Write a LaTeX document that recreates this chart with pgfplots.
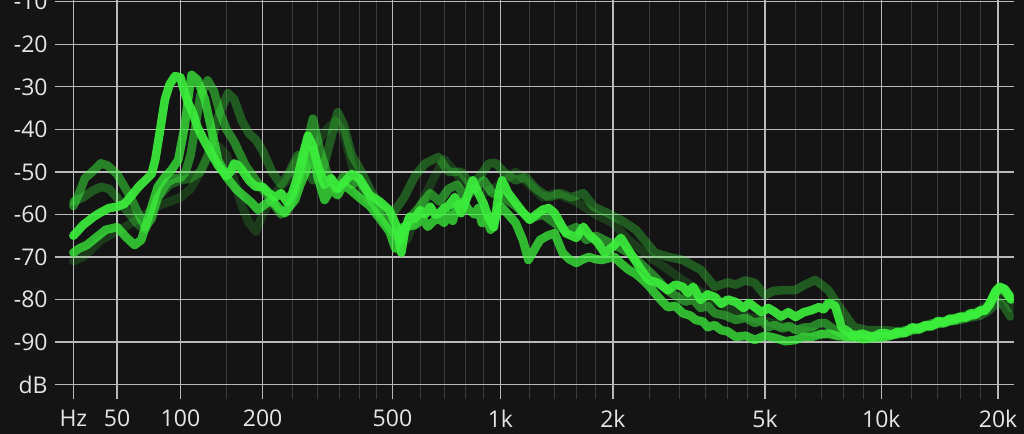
\documentclass[border=0pt]{standalone}
\usepackage{pgfplots}
\pgfplotsset{compat=1.18}
\usepackage{fontspec}
\setmainfont{Open Sans}

\definecolor{bgc}{RGB}{20,20,20}
\definecolor{tr}{RGB}{60,240,60}
\definecolor{majgrid}{RGB}{185,185,185}
\definecolor{mingrid}{RGB}{58,58,58}
\definecolor{lbl}{RGB}{230,230,230}

\begin{document}
\begin{tikzpicture}
% dark page
\fill[bgc] (-27.5pt,-17.35pt) rectangle (484.5pt,199.65pt);
\begin{axis}[
    scale only axis,
    width=479.35pt, height=199.65pt,
    % frequency axis: position = log10(f + 60)
    x filter/.expression={log10(x+60)},
    xmin=1.88229, xmax=4.34239,
    ymin=-103.45, ymax=-9.6,
    xtick={1.92942,2.04139,2.20412,2.41497,2.74819,3.02531,3.31387,3.70415,4.00260,4.30233},
    xticklabels={Hz,50,100,200,500,1k,2k,5k,10k,20k},
    minor xtick={2.32222,2.49136,2.55630,2.61278,2.66276,2.70757,
        2.81954,2.88081,2.93450,2.98227,
        3.10037,3.16435,3.22011,3.26951,
        3.40824,3.48572,3.55145,3.60853,3.65896,
        3.78247,3.84880,3.90634,3.95713,
        4.08135,4.14799,4.20575,4.25672},
    ytick={-100,-90,...,-10},
    yticklabels={dB,-90,-80,-70,-60,-50,-40,-30,-20,-10},
    xmajorgrids, xminorgrids, ymajorgrids,
    major grid style={majgrid, line width=0.7pt},
    minor grid style={mingrid, line width=0.5pt},
    axis line style={draw=none},
    tick style={draw=none},
    tick label style={lbl, font=\fontsize{11.5}{13}\selectfont},
    xticklabel style={inner sep=0pt, yshift=-5pt},
    yticklabel style={inner sep=0pt, xshift=-3.5pt},
    every axis plot/.append style={tr, line width=4.3pt, line join=round, line cap=round, no markers},
]
% faint background trace
\addplot[opacity=0.18] coordinates {
(25,-71)(30,-70)(35,-68)(40,-66)(50,-64)(60,-62)(70,-60)(80,-58)(90,-57)(100,-56)(110,-54)(120,-50)(130,-46)(140,-44)(150,-46)(160,-52)(170,-58)(180,-62)(190,-64)(200,-60)(220,-55)(240,-52)(260,-47)(280,-44)(300,-43)(320,-40)(340,-38)(360,-41)(380,-48)(400,-55)(450,-58)(500,-63)(550,-66)(600,-58)(650,-52)(700,-47)(750,-50)(800,-53)(900,-55)(1000,-53)(1100,-50)(1200,-53)(1300,-56)(1400,-55)(1600,-57)(1800,-60)(2000,-62)(2200,-66)(2500,-70)(2800,-73)(3000,-75)(3500,-79)(4000,-82)(4500,-84)(5000,-85)(6000,-87)(7000,-88)(8000,-89)(10000,-89)(12000,-87)(14000,-85.5)(16000,-84)(18000,-82.5)(20000,-79)(21000,-80)(21600,-82)
};
\addplot[opacity=0.32] coordinates {
(25,-57)(30,-56)(35,-54.5)(40,-53.5)(45,-54)(50,-56)(55,-58.5)(60,-60.5)(65,-62.5)(70,-63.6)(75,-60)(80,-56)(90,-53)(100,-52)(110,-51.5)(120,-50)(130,-45)(140,-37)(152,-31.5)(160,-33)(170,-38)(180,-41)(190,-42.5)(200,-45)(215,-50)(230,-53)(245,-50)(260,-46)(275,-48)(290,-52)(310,-50)(330,-42)(345,-36)(360,-39)(380,-46)(400,-49)(430,-54)(460,-58)(500,-60)(540,-56)(580,-51)(620,-48)(675,-46.5)(720,-50)(780,-50)(830,-53)(880,-51)(930,-48)(970,-47.9)(1020,-50)(1100,-52)(1170,-51.2)(1250,-54)(1350,-56)(1450,-55)(1550,-56)(1670,-55)(1780,-58.2)(1940,-59.7)(2100,-61.3)(2300,-63.6)(2580,-69)(2800,-70)(3050,-70.7)(3400,-73)(3700,-77)(4000,-76)(4200,-76.5)(4450,-75.5)(4700,-76.1)(5000,-79)(5250,-78)(5550,-77.8)(6000,-77.8)(6350,-76.5)(6750,-75.4)(7000,-76.5)(7300,-77.8)(7900,-82.5)(8500,-86.5)(9200,-87.2)(10250,-87.2)(11000,-87.5)(12000,-87)(13000,-86.2)(14000,-85.8)(15000,-85.2)(16000,-84.8)(17000,-84.2)(18000,-83.8)(19000,-82.5)(20000,-80.5)(20700,-81.5)(21500,-84)
};
\addplot[opacity=0.5] coordinates {
(25,-58)(28,-55)(31,-51.5)(35,-50)(40,-48)(44,-48.5)(50,-50.5)(55,-53.5)(60,-56.5)(65,-60)(70,-63)(75,-61)(80,-56)(88,-52.5)(95,-51.5)(100,-51.5)(105,-50)(110,-46)(115,-39)(120,-32)(128,-28.5)(135,-31)(142,-36)(150,-40)(160,-43)(175,-48.5)(190,-52)(200,-54)(215,-57)(230,-60)(245,-58)(260,-53)(275,-45)(290,-37.5)(305,-45)(320,-50)(340,-54)(360,-51)(380,-53)(400,-52)(430,-56)(460,-60)(500,-64)(530,-66)(560,-61)(600,-58)(640,-55)(680,-57)(720,-54)(760,-53)(800,-56)(850,-54)(900,-52)(950,-55)(1000,-55.5)(1100,-58)(1200,-61)(1300,-60)(1400,-62)(1500,-64)(1600,-63)(1700,-66)(1800,-65)(2000,-67)(2200,-69)(2400,-72)(2600,-75)(2800,-78)(3100,-80.5)(3250,-80)(3400,-82)(3550,-81.5)(3700,-83.2)(3950,-83.8)(4200,-84.8)(4450,-84.3)(4700,-85.5)(4900,-85)(5100,-86.5)(5300,-86)(5550,-86.8)(5800,-86.2)(6000,-87.2)(6300,-86.6)(6600,-86.5)(6900,-85.6)(7150,-85.5)(7600,-87.2)(8200,-88.8)(9000,-89.3)(10000,-89)(10500,-88.4)(11000,-88.2)(11500,-87.3)(12000,-87)(12500,-86.6)(13000,-86.2)(13500,-85.6)(14000,-85.6)(14500,-85.1)(15000,-85)(15500,-84.3)(16000,-84.2)(16500,-83.9)(17000,-83.6)(17500,-83.2)(18000,-82.8)(18500,-82.2)(19000,-81.5)(19800,-78)(20400,-77.5)(21000,-78.5)(21600,-80)
};
\addplot[opacity=0.75] coordinates {
(25,-69)(28,-68)(32,-67.2)(37,-65.5)(43,-63.6)(50,-63)(56,-65.3)(62,-67.2)(67,-66)(71,-62)(75,-58.2)(80,-53.5)(86,-51.2)(92,-49.5)(98,-47.2)(104,-39.4)(108,-32)(111,-27.2)(117,-28.4)(125,-33)(133,-40.8)(140,-47.2)(150,-51.2)(163,-54.2)(175,-56)(184,-57.3)(193,-58.9)(205,-57.5)(215,-56.6)(226,-58.5)(237,-59.7)(246,-58)(255,-56.6)(265,-53)(275,-50.2)(290,-44.8)(300,-51.2)(315,-56.6)(330,-54)(345,-55.5)(360,-53)(380,-54.5)(400,-56)(430,-58)(460,-61)(490,-64)(510,-68)(535,-63)(580,-62.5)(610,-61)(630,-62.9)(655,-61.5)(680,-61)(700,-62)(720,-60)(740,-61.5)(760,-58)(790,-57)(820,-59)(850,-60)(870,-58.5)(890,-62)(915,-61)(940,-63.6)(970,-61)(1000,-58)(1050,-60)(1100,-62)(1150,-66)(1190,-70.7)(1240,-68)(1280,-66)(1340,-65)(1400,-64.4)(1470,-69)(1530,-70.5)(1600,-71.4)(1670,-70.5)(1730,-70)(1800,-70.5)(1870,-70.7)(1950,-70.3)(2020,-70)(2100,-71.5)(2200,-73)(2300,-74)(2400,-75.4)(2500,-77)(2580,-78.5)(2700,-80.5)(2790,-81.8)(2920,-81.5)(3050,-83.2)(3200,-83.8)(3300,-84.8)(3450,-85.2)(3550,-86.5)(3700,-86)(3850,-87.2)(4000,-87.5)(4200,-88.8)(4450,-88.5)(4700,-89.5)(5000,-88.5)(5300,-89)(5650,-89.8)(6000,-89.5)(6300,-88.7)(6600,-88.8)(6950,-88.2)(7300,-88)(7700,-88.5)(8200,-88.8)(8600,-88.2)(9000,-89.3)(9500,-88.6)(10000,-88.8)(10500,-88.6)(11000,-88)(11500,-87.9)(12000,-87.2)(12500,-87.1)(13000,-86.4)(13500,-86.3)(14000,-85.5)(14500,-85.6)(15000,-85)(15500,-84.9)(16000,-84.4)(16500,-84.3)(17000,-83.8)(17500,-83.6)(18000,-82.8)(18500,-82.6)(19000,-81.2)(19700,-78.5)(20200,-77.3)(20800,-77.8)(21600,-80)
};
% front (brightest) trace
\addplot[opacity=0.9] coordinates {
(25,-65)(28,-63.5)(30,-62.5)(33,-61.5)(36,-60.5)(40,-59.5)(45,-58.5)(50,-58.2)(55,-57.5)(60,-55.5)(65,-53.5)(70,-52)(75,-50.5)(78,-47)(82,-40)(86,-33)(90,-29.5)(95,-27.5)(100,-27.8)(103,-30.5)(107,-33.5)(112,-36)(117,-39.5)(125,-43)(133,-46)(140,-48.5)(150,-51)(155,-50)(160,-48)(165,-48.5)(170,-49.5)(180,-52)(190,-53.5)(200,-53.5)(210,-55)(220,-56)(230,-55)(240,-57)(250,-55)(260,-51)(270,-46)(280,-41.5)(290,-44)(300,-48.5)(315,-53)(330,-51.5)(345,-54)(360,-52.5)(380,-50.5)(400,-51.5)(430,-55.5)(460,-57)(490,-59)(515,-63)(530,-69)(545,-63)(560,-60.5)(580,-61)(600,-59)(620,-60)(640,-58.2)(660,-60)(680,-59.7)(700,-58.5)(720,-58)(735,-57)(750,-56)(780,-59.7)(810,-56)(840,-52)(870,-55)(900,-57.5)(930,-61)(960,-63)(990,-55)(1010,-52)(1050,-55)(1100,-57.3)(1150,-59.5)(1200,-61.3)(1250,-60)(1300,-58.9)(1350,-58.5)(1400,-59.7)(1500,-64.4)(1600,-65.5)(1670,-62.9)(1730,-64.8)(1820,-66.5)(1900,-69)(2000,-67.6)(2100,-65.5)(2200,-68.4)(2350,-72.4)(2480,-75.4)(2630,-76.1)(2790,-77.8)(2920,-76.5)(3050,-77)(3150,-78.5)(3250,-77)(3400,-80.1)(3550,-78.8)(3700,-79.4)(3850,-81)(4000,-80)(4200,-80.6)(4400,-82)(4550,-80.8)(4700,-81.8)(4900,-83)(5100,-82)(5300,-82.9)(5500,-84)(5750,-83)(6000,-84.1)(6300,-83)(6600,-82.5)(6900,-81.8)(7100,-82.3)(7300,-80.8)(7600,-81.5)(7900,-86.5)(8200,-87.5)(8500,-88.8)(8900,-88)(9500,-88.8)(9900,-88)(10250,-87.9)(10600,-88.3)(11000,-87.6)(11500,-87.8)(12000,-86.5)(12500,-86.9)(13000,-86)(13500,-86.2)(14000,-85)(14500,-85.4)(15000,-84.5)(15500,-84.6)(16000,-84)(16500,-84.2)(17000,-83.2)(17500,-83.5)(18000,-82.5)(18500,-82.6)(19000,-81)(19700,-78)(20200,-77)(20800,-77.5)(21600,-79.6)
};
\end{axis}
\pgfresetboundingbox
\path[use as bounding box] (-27.5pt,-17.35pt) rectangle (484.5pt,199.65pt);
\end{tikzpicture}
\end{document}
